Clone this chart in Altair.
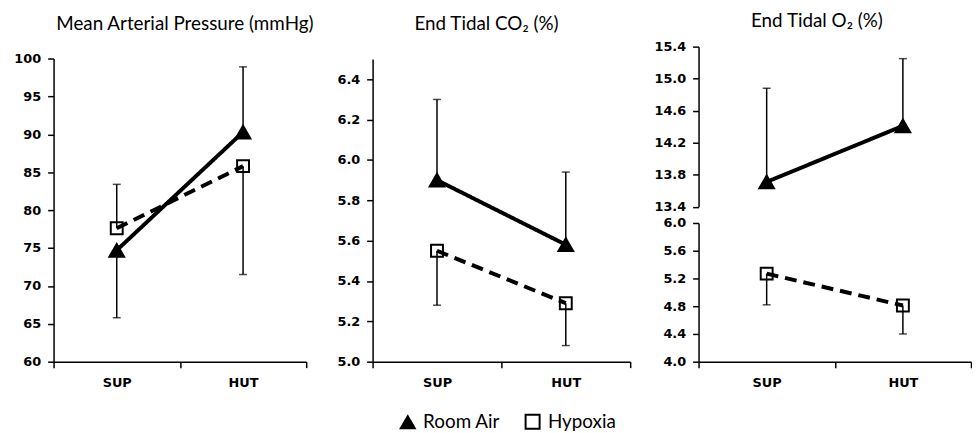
import altair as alt
import pandas as pd

conditions = ["SUP", "HUT"]
series = ["Room Air", "Hypoxia"]
dashes = [[1, 0], [12, 7]]
marker_sizes = [220, 144]

# Mean arterial pressure (mmHg): mean and end of the one-sided error bar
map_room = [74.7, 90.3]
map_room_bar = [65.8, 98.9]
map_hyp = [77.6, 85.8]
map_hyp_bar = [83.4, 71.5]

# End tidal CO2 (%)
co2_room = [5.90, 5.58]
co2_room_bar = [6.30, 5.94]
co2_hyp = [5.55, 5.29]
co2_hyp_bar = [5.28, 5.08]

# End tidal O2 (%)
o2_room = [13.71, 14.41]
o2_room_bar = [14.88, 15.25]
o2_hyp = [5.27, 4.81]
o2_hyp_bar = [4.82, 4.40]

map_ticks = [60, 65, 70, 75, 80, 85, 90, 95, 100]
co2_ticks = [5.0, 5.2, 5.4, 5.6, 5.8, 6.0, 6.2, 6.4]
o2_top_ticks = [13.4, 13.8, 14.2, 14.6, 15.0, 15.4]
o2_bottom_ticks = [4.0, 4.4, 4.8, 5.2, 5.6, 6.0]

titles = ["Mean Arterial Pressure (mmHg)", "End Tidal CO\u2082 (%)", "End Tidal O\u2082 (%)"]

H = 318
LABEL_FONT = "DejaVu Sans"
TEXT_FONT = "Lato"


def make_df(pairs):
    rows = []
    for name, vals, ends in pairs:
        for c, v, e in zip(conditions, vals, ends):
            rows.append({"cond": c, "series": name, "value": v, "end": e})
    return pd.DataFrame(rows)


legend = alt.Legend(title=None, orient="none", direction="horizontal",
                    legendX=348, legendY=369,
                    symbolStrokeColor="black", symbolStrokeWidth=2)

x_enc = alt.X("cond:N", sort=conditions,
              scale=alt.Scale(domain=conditions, paddingInner=0, paddingOuter=0),
              axis=alt.Axis(title=None, labelAngle=0, tickBand="extent", tickSize=6,
                            labelPadding=9))

shape_enc = alt.Shape("series:N", scale=alt.Scale(domain=series, range=["triangle-up", "square"]),
                      legend=legend)
fill_enc = alt.Fill("series:N", scale=alt.Scale(domain=series, range=["black", "transparent"]),
                    legend=legend)
stroke_enc = alt.Stroke("series:N", scale=alt.Scale(domain=series, range=["black", "black"]),
                        legend=legend)


def layers(df, y_scale, y_axis):
    y = alt.Y("value:Q", scale=y_scale, axis=y_axis)
    base = alt.Chart(df)
    rule = base.mark_rule(color="black", strokeWidth=1.5).encode(
        x=x_enc, y=y, y2="end:Q")
    cap = base.mark_tick(color="black", thickness=1.5, size=8).encode(
        x=x_enc, y=alt.Y("end:Q", scale=y_scale, axis=y_axis))
    out = [rule, cap]
    present = [(n, d, s) for n, d, s in zip(series, dashes, marker_sizes)
               if (df["series"] == n).any()]
    for name, dash, sz in present:
        out.append(base.transform_filter(alt.datum.series == name).mark_line(
            color="black", strokeWidth=4, strokeDash=dash).encode(x=x_enc, y=y))
    for name, dash, sz in present:
        out.append(base.transform_filter(alt.datum.series == name).mark_point(
            strokeWidth=2, opacity=1, size=sz).encode(
            x=x_enc, y=y, shape=shape_enc, fill=fill_enc, stroke=stroke_enc))
    return alt.layer(*out)


def y_axis(ticks, fmt):
    return alt.Axis(title=None, values=ticks, format=fmt, grid=False, tickSize=6,
                    labelPadding=7, orient="left")


df_map = make_df([("Room Air", map_room, map_room_bar), ("Hypoxia", map_hyp, map_hyp_bar)])
df_co2 = make_df([("Room Air", co2_room, co2_room_bar), ("Hypoxia", co2_hyp, co2_hyp_bar)])
df_o2_top = make_df([("Room Air", o2_room, o2_room_bar)])
df_o2_bot = make_df([("Hypoxia", o2_hyp, o2_hyp_bar)])

p1 = layers(df_map, alt.Scale(domain=[60, 100], range=[H, 12], nice=False, zero=False),
            y_axis(map_ticks, "d")).properties(
    width=255, height=H,
    title=alt.TitleParams(titles[0], dx=5, offset=13))

p2 = layers(df_co2, alt.Scale(domain=[5.0, 6.5], range=[H, 12.6], nice=False, zero=False),
            y_axis(co2_ticks, ".1f")).properties(
    width=260, height=H,
    title=alt.TitleParams(titles[1], dx=-15, offset=13))

top = layers(df_o2_top, alt.Scale(domain=[13.4, 15.4], range=[161.6, 0], nice=False, zero=False),
             y_axis(o2_top_ticks, ".1f"))
bot = layers(df_o2_bot, alt.Scale(domain=[4.0, 6.0], range=[H, 178], nice=False, zero=False),
             y_axis(o2_bottom_ticks, ".1f"))
p3 = alt.layer(top, bot).resolve_scale(y="independent").properties(
    width=275, height=H,
    title=alt.TitleParams(titles[2], dx=-18, offset=10))

chart = alt.hconcat(p1, p2, p3, spacing=22).configure_view(stroke=None).configure_axis(
    domainColor="black", domainWidth=1.5, tickColor="black", tickWidth=1.5,
    labelFont=LABEL_FONT, labelFontWeight="bold", labelFontSize=13, labelColor="black",
).configure_title(
    font=TEXT_FONT, fontSize=19, fontWeight="normal", color="black",
    anchor="middle", frame="group", baseline="alphabetic",
).configure_legend(
    labelFont=TEXT_FONT, labelFontSize=19, labelColor="black",
    symbolStrokeColor="black", symbolStrokeWidth=2, symbolSize=200,
    labelOffset=6, columnPadding=21, padding=0,
).properties(padding={"left": 5, "top": 2, "right": 0, "bottom": 0})

chart.save("out.html", embed_options={"renderer": "svg", "actions": False})
